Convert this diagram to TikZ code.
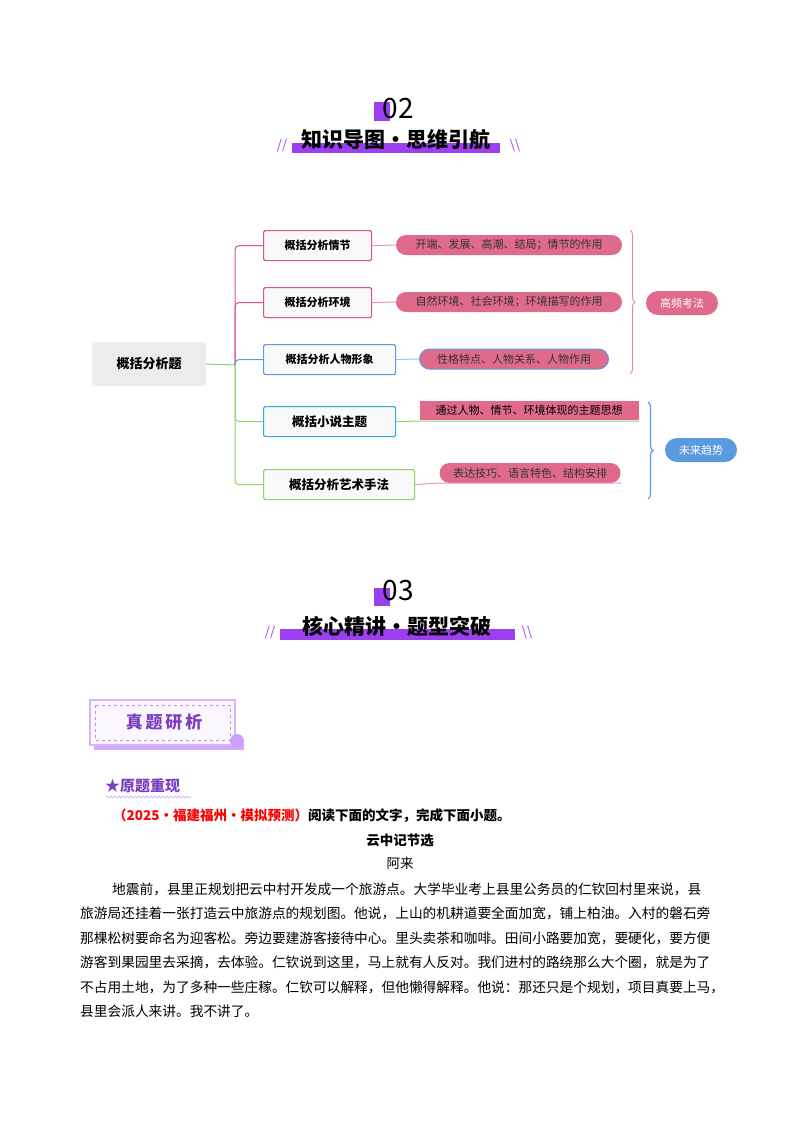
\documentclass[tikz,border=0pt]{standalone}
\usepackage{fontspec}
\setmainfont{Noto Sans CJK SC}
\usetikzlibrary{decorations.pathmorphing,decorations.pathreplacing,shapes.misc}
\definecolor{pk}{HTML}{D9577E}
\definecolor{pkf}{HTML}{E06A8C}
\definecolor{bl}{HTML}{5A9BE0}
\definecolor{cy}{HTML}{33AADD}
\definecolor{gr}{HTML}{8CD36A}
\definecolor{pu}{HTML}{9B3FF0}
\definecolor{pud}{HTML}{7A3FC0}
\tikzset{
 br/.style={draw=#1,line width=1.2pt,fill=gray!5,rounded corners=1.5pt,font=\fontsize{11}{11}\selectfont\bfseries,anchor=north west,inner sep=0pt},
 leaf/.style={fill=pkf,rounded rectangle,inner sep=0pt,font=\fontsize{11}{11}\selectfont,text=black!80},
 con/.style={draw=#1,line width=1pt,rounded corners=4pt},
 body/.style={anchor=base west,font=\fontsize{13.7}{13.7}\selectfont,inner sep=0pt}
}
\begin{document}
\begin{tikzpicture}[x=1pt,y=-1pt]
\useasboundingbox (0,0) rectangle (800,1132);
% header 02
\fill[pu] (374,102) rectangle (390,121);
\node (n02) at (398,109) {\fontsize{28}{28}\selectfont 02};
\fill[pu] (292,143) rectangle (500,153);
\node (t02) at (396,140) {\fontsize{21}{21}\selectfont\bfseries 知识导图·思维引航};
\node[text=pu] (s1) at (282,146) {\fontsize{13}{13}\selectfont //};
\node[text=pu] (s2) at (515,146) {\fontsize{13}{13}\selectfont\textbackslash\textbackslash};
% mind map
\node[fill=gray!15,rounded corners=3pt,minimum width=114pt,minimum height=44pt,font=\fontsize{13}{13}\selectfont\bfseries] (root) at (149,364) {概括分析题};
\node[br=pk,minimum width=108pt,minimum height=30pt] (b1) at (263,230) {};
\node at (b1.center) {\fontsize{11}{11}\selectfont\bfseries 概括分析情节};
\node[br=pk,minimum width=108pt,minimum height=30pt] (b2) at (263,287) {};
\node at (b2.center) {\fontsize{11}{11}\selectfont\bfseries 概括分析环境};
\node[br=bl,minimum width=132pt,minimum height=30pt] (b3) at (263,344) {};
\node at (b3.center) {\fontsize{11}{11}\selectfont\bfseries 概括分析人物形象};
\node[br=cy,minimum width=132pt,minimum height=30pt] (b4) at (263,406) {};
\node at (b4.center) {\fontsize{12.5}{12.5}\selectfont\bfseries 概括小说主题};
\node[br=gr,minimum width=151pt,minimum height=30pt] (b5) at (263,469) {};
\node at (b5.center) {\fontsize{12.5}{12.5}\selectfont\bfseries 概括分析艺术手法};
\coordinate (tr) at (235,365);
\draw[con=gr] (root.east) -- (tr);
\draw[con=pk] (tr) |- (b1.west);
\draw[con=pk] (tr) |- (b2.west);
\draw[con=bl] (tr) |- (b3.west);
\draw[con=gr] (tr) |- (b4.west);
\draw[con=gr] (tr) |- (b5.west);
\node[leaf,minimum width=226pt,minimum height=20pt] (l1) at (509,245) {开端、发展、高潮、结局；情节的作用};
\node[leaf,minimum width=226pt,minimum height=20pt] (l2) at (509,302) {自然环境、社会环境；环境描写的作用};
\node[leaf,draw=bl,line width=1pt,minimum width=189pt,minimum height=20pt] (l3) at (514,359) {性格特点、人物关系、人物作用};
\node[fill=pkf,inner sep=0pt,minimum width=219pt,minimum height=19pt,font=\fontsize{11}{11}\selectfont] (l4) at (529,410.5) {通过人物、情节、环境体现的主题思想};
\node[leaf,minimum width=181pt,minimum height=20pt] (l5) at (530,473) {表达技巧、语言特色、结构安排};
\draw[pk!60,line width=1pt] (b1.east) -- (l1.west);
\draw[pk!60,line width=1pt] (b2.east) -- (l2.west);
\draw[bl!60,line width=1pt] (b3.east) -- (l3.west);
\draw[gr,line width=1pt] (b4.east) -- (420,421) -- (639,421);
\draw[pk!60,line width=1pt] (b5.east) -- (440,483) -- (621,483);
\draw[pk!70,line width=1pt,decorate,decoration={brace,amplitude=5pt}] (630,230) -- (630,374);
\draw[bl,line width=1.2pt,decorate,decoration={brace,amplitude=5pt}] (648,402) -- (648,499);
\node[fill=pkf,rounded rectangle,minimum width=72pt,minimum height=24pt,inner sep=0pt,text=white,font=\fontsize{11}{11}\selectfont] (g1) at (682,303) {高频考法};
\node[fill=bl,rounded rectangle,minimum width=72pt,minimum height=24pt,inner sep=0pt,text=white,font=\fontsize{11}{11}\selectfont] (g2) at (701,450) {未来趋势};
% header 03
\fill[pu] (374,588) rectangle (390,606);
\node (n03) at (398,591) {\fontsize{28}{28}\selectfont 03};
\fill[pu] (280,629) rectangle (515,640);
\node (t03) at (397,626) {\fontsize{21}{21}\selectfont\bfseries 核心精讲·题型突破};
\node[text=pu] (s3) at (270,632) {\fontsize{13}{13}\selectfont //};
\node[text=pu] (s4) at (527,632) {\fontsize{13}{13}\selectfont\textbackslash\textbackslash};
% 真题研析 box
\fill[pu!45] (94,744) rectangle (244,750);
\draw[pu!40,line width=1.5pt,fill=pu!4] (90,700) rectangle (235,745);
\draw[pu!60,dashed,line width=0.6pt] (95,705) rectangle (230,740);
\fill[pu!50] (237,741) circle (7pt);
\node[text=pud] (zt) at (164,722) {\fontsize{17}{17}\selectfont\bfseries 真\,题\,研\,析};
% 原题重现
\node[anchor=west,text=pud,inner sep=0pt] (yt) at (105,786) {\fontsize{15}{15}\selectfont\bfseries ★原题重现};
\draw[pu!50,decorate,decoration={snake,amplitude=1pt,segment length=4pt}] (106,797) -- (192,797);
\node[body,font=\fontsize{13.5}{13.5}\selectfont\bfseries] (q) at (113,820) {\textcolor{red}{（2025·福建福州·模拟预测）}阅读下面的文字，完成下面小题。};
\node[font=\fontsize{13.5}{13.5}\selectfont\bfseries,anchor=base] (ti) at (400,845) {云中记节选};
\node[font=\fontsize{13.5}{13.5}\selectfont,anchor=base] (au) at (400,868) {阿来};
\node[body] (p1) at (112,894) {地震前，县里正规划把云中村开发成一个旅游点。大学毕业考上县里公务员的仁钦回村里来说，县};
\node[body] (p2) at (80,918.5) {旅游局还挂着一张打造云中旅游点的规划图。他说，上山的机耕道要全面加宽，铺上柏油。入村的磐石旁};
\node[body] (p3) at (80,943) {那棵松树要命名为迎客松。旁边要建游客接待中心。里头卖茶和咖啡。田间小路要加宽，要硬化，要方便};
\node[body] (p4) at (80,967.5) {游客到果园里去采摘，去体验。仁钦说到这里，马上就有人反对。我们进村的路绕那么大个圈，就是为了};
\node[body] (p5) at (80,992) {不占用土地，为了多种一些庄稼。仁钦可以解释，但他懒得解释。他说：那还只是个规划，项目真要上马，};
\node[body] (p6) at (80,1016.5) {县里会派人来讲。我不讲了。};
\end{tikzpicture}
\end{document}
